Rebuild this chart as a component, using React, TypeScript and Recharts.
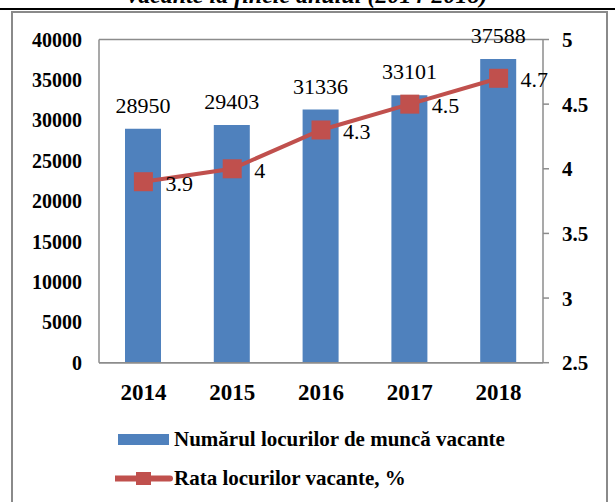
import { ComposedChart, Bar, Line, XAxis, YAxis, CartesianGrid, Legend, LabelList } from "recharts";

const years = ["2014", "2015", "2016", "2017", "2018"];
const vacancies = [28950, 29403, 31336, 33101, 37588];
const vacancyRate = [3.9, 4, 4.3, 4.5, 4.7];
const leftTicks = [0, 5000, 10000, 15000, 20000, 25000, 30000, 35000, 40000];
const rightTicks = [2.5, 3, 3.5, 4, 4.5, 5];

const data = years.map((year, i) => ({
  year,
  vacancies: vacancies[i],
  rate: vacancyRate[i],
}));

const FONT = "Liberation Serif, DejaVu Serif, serif";
const GRID = "#8c8c8c";
const BLUE = "#4F81BD";
const RED = "#C0504D";

function SquareDot(props: any) {
  const { cx, cy } = props;
  if (cx == null || cy == null) return null;
  return <rect x={cx - 9.5} y={cy - 9.5} width={19} height={19} fill={RED} />;
}

// value above each bar
function BarLabel(props: any) {
  const { x, y, width, value } = props;
  return (
    <text
      x={x + width / 2}
      y={y - 16}
      textAnchor="middle"
      fill="#000"
      fontFamily={FONT}
      fontSize={22}
      fontWeight="normal"
    >
      {value}
    </text>
  );
}

// value to the right of each marker
function RateLabel(props: any) {
  const { x, y, value } = props;
  return (
    <text x={x + 22} y={y + 9} fill="#000" fontFamily={FONT} fontSize={22} fontWeight="normal">
      {value}
    </text>
  );
}

function LegendContent(props: any) {
  const { payload } = props;
  return (
    <div style={{ fontFamily: FONT, fontWeight: "bold", fontSize: 21, color: "#000", whiteSpace: "nowrap" }}>
      {(payload || []).map((entry: any) => (
        <div key={entry.value} style={{ display: "flex", alignItems: "center", height: 39 }}>
          {entry.type === "rect" ? (
            <svg width={59} height={39} style={{ display: "block" }}>
              <rect x={3} y={14} width={51} height={11} fill={BLUE} />
            </svg>
          ) : (
            <svg width={59} height={39} style={{ display: "block" }}>
              <line x1={1} y1={19.5} x2={55} y2={19.5} stroke={RED} strokeWidth={6} strokeLinecap="round" />
              <rect x={21} y={13} width={15} height={13} fill={RED} />
            </svg>
          )}
          <span>{entry.value}</span>
        </div>
      ))}
    </div>
  );
}

export default function App() {
  return (
    <div
      style={{
        position: "absolute",
        left: 0,
        top: 0,
        width: 615,
        height: 502,
        overflow: "hidden",
        background: "#fff",
        fontFamily: FONT,
      }}
    >
      <div
        style={{
          position: "absolute",
          top: -18,
          left: 0,
          width: 615,
          textAlign: "center",
          fontSize: 24,
          fontWeight: "bold",
          fontStyle: "italic",
          lineHeight: "26px",
        }}
      >
        vacante la finele anului (2014-2018)
      </div>
      <div style={{ position: "absolute", top: 8, left: 0, width: 615, height: 2, background: "#000" }} />
      <div
        style={{
          position: "absolute",
          top: 11,
          left: 11,
          width: 593,
          height: 520,
          border: "2px solid #8a8a8a",
        }}
      />
      <div style={{ position: "absolute", top: 0, left: 0 }}>
        <ComposedChart
          width={615}
          height={502}
          data={data}
          margin={{ top: 39.5, right: 0, left: 0, bottom: 99.3 }}
          barSize={36}
        >
          <CartesianGrid vertical={false} stroke={GRID} strokeWidth={1.5} />
          <XAxis
            dataKey="year"
            height={40}
            axisLine={{ stroke: GRID, strokeWidth: 1.5 }}
            tickLine={false}
            tickMargin={15}
            tick={{ fill: "#000", fontSize: 23, fontWeight: "bold", fontFamily: FONT }}
          />
          <YAxis
            yAxisId="left"
            width={99}
            domain={[0, 40000]}
            ticks={leftTicks}
            interval={0}
            axisLine={{ stroke: GRID, strokeWidth: 1.5 }}
            tickLine={false}
            tickMargin={11}
            tick={{ fill: "#000", fontSize: 20, fontWeight: "bold", fontFamily: FONT }}
          />
          <YAxis
            yAxisId="right"
            orientation="right"
            width={72}
            domain={[2.5, 5]}
            ticks={rightTicks}
            interval={0}
            axisLine={{ stroke: GRID, strokeWidth: 1.5 }}
            tickLine={{ stroke: GRID, strokeWidth: 1.5 }}
            tickSize={6}
            tickMargin={13}
            tick={{ fill: "#000", fontSize: 21, fontWeight: "bold", fontFamily: FONT }}
          />
          <Legend
            layout="vertical"
            align="center"
            verticalAlign="middle"
            wrapperStyle={{ left: 115, top: 419.5, width: 440 }}
            content={<LegendContent />}
          />
          <Bar
            yAxisId="left"
            dataKey="vacancies"
            name="Numărul locurilor de muncă vacante"
            fill={BLUE}
            legendType="rect"
            isAnimationActive={false}
          >
            <LabelList dataKey="vacancies" content={<BarLabel />} />
          </Bar>
          <Line
            yAxisId="right"
            dataKey="rate"
            name="Rata locurilor vacante, %"
            stroke={RED}
            strokeWidth={4}
            legendType="line"
            dot={<SquareDot />}
            activeDot={false}
            isAnimationActive={false}
          >
            <LabelList dataKey="rate" content={<RateLabel />} />
          </Line>
        </ComposedChart>
      </div>
    </div>
  );
}
